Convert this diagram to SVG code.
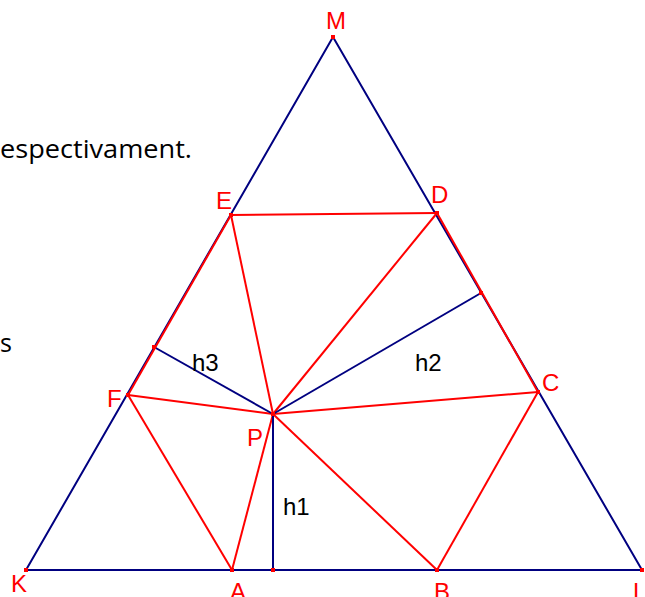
<svg xmlns="http://www.w3.org/2000/svg" width="645" height="597" viewBox="0 0 645 597">
<style>
.blue{stroke:#000080;stroke-width:2;fill:none}
.red{stroke:#ff0000;stroke-width:2;fill:none}
.lbl{font-family:"Liberation Sans",Arial,sans-serif;font-size:24px;fill:#ff0000}
.h{font-family:"Liberation Sans",Arial,sans-serif;font-size:24px;fill:#000}
.txt{font-family:"Open Sans","Noto Sans",sans-serif;font-size:25px;fill:#000}
.pt{fill:#ff0000}
</style>
<rect width="645" height="597" fill="#fff"/>
<text class="txt" x="0" y="158" textLength="192" lengthAdjust="spacingAndGlyphs">espectivament.</text>
<text class="txt" x="0" y="352">s</text>
<g id="connectors">
<line class="red" x1="232" y1="570" x2="437" y2="570" stroke-width="3"/>
<polygon class="blue" points="333,37 26,570 642,570"/>
<line class="blue" x1="232" y1="570" x2="437" y2="570" stroke="#200060"/>
<line class="red" x1="231" y1="215" x2="128" y2="395"/>
<line class="red" x1="437" y1="213" x2="538" y2="392"/>
<line class="red" x1="231" y1="215" x2="437" y2="213"/>
<line class="red" x1="231" y1="215" x2="273" y2="414"/>
<line class="red" x1="437" y1="213" x2="273" y2="414"/>
<line class="red" x1="538" y1="392" x2="273" y2="414"/>
<line class="red" x1="128" y1="395" x2="273" y2="414"/>
<line class="red" x1="232" y1="570" x2="273" y2="414"/>
<line class="red" x1="437" y1="570" x2="273" y2="414"/>
<line class="red" x1="128" y1="395" x2="232" y2="570"/>
<line class="red" x1="437" y1="570" x2="538" y2="392"/>
<line class="blue" x1="273" y1="414" x2="273" y2="570"/>
<line class="blue" x1="273" y1="414" x2="481" y2="293"/>
<line class="blue" x1="273" y1="414" x2="154" y2="347"/>
</g>
<g id="M"><rect class="pt" x="331" y="35" width="4" height="4"/><text class="lbl" x="326" y="29">M</text></g>
<g id="K"><rect class="pt" x="24" y="568" width="4" height="4"/><text class="lbl" x="11" y="592">K</text></g>
<g id="L"><rect class="pt" x="640" y="568" width="4" height="4"/><text class="lbl" x="633" y="600">L</text></g>
<g id="E"><rect class="pt" x="229" y="213" width="4" height="4"/><text class="lbl" x="216" y="209">E</text></g>
<g id="D"><rect class="pt" x="435" y="211" width="4" height="4"/><text class="lbl" x="431" y="203">D</text></g>
<g id="C"><rect class="pt" x="536" y="390" width="4" height="4"/><text class="lbl" x="542" y="391">C</text></g>
<g id="F"><rect class="pt" x="126" y="393" width="4" height="4"/><text class="lbl" x="107" y="407">F</text></g>
<g id="P"><rect class="pt" x="271" y="412" width="4" height="4"/><text class="lbl" x="247" y="446">P</text></g>
<g id="A"><rect class="pt" x="230" y="568" width="4" height="4"/><text class="lbl" x="230" y="600">A</text></g>
<g id="B"><rect class="pt" x="435" y="568" width="4" height="4"/><text class="lbl" x="434" y="600">B</text></g>
<g id="H1"><rect class="pt" x="271" y="568" width="4" height="4"/><text class="h" x="283" y="515">h1</text></g>
<g id="H2"><rect class="pt" x="479" y="291" width="4" height="4"/><text class="h" x="415" y="371">h2</text></g>
<g id="H3"><rect class="pt" x="152" y="345" width="4" height="4"/><text class="h" x="192" y="371">h3</text></g>
</svg>
